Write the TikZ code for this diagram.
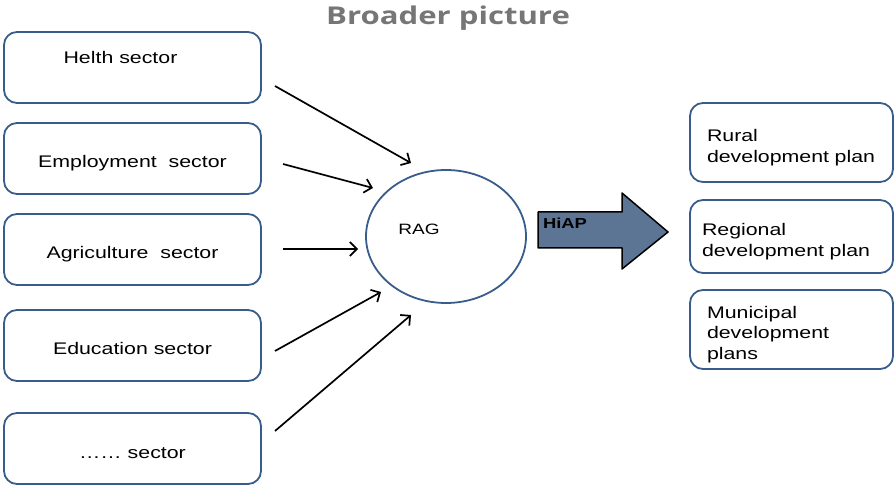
\documentclass[tikz,border=0pt]{standalone}
\usepackage{fontspec}
\setmainfont{Liberation Sans}[FakeStretch=1.27]
\newfontfamily\titlefont{Open Sans}[FakeStretch=1.27]
\usetikzlibrary{arrows.meta,shapes.geometric}
\definecolor{boxblue}{RGB}{56,93,138}
\definecolor{hiapfill}{RGB}{92,117,148}
\definecolor{titlegray}{RGB}{118,118,118}
\tikzset{
  sectorbox/.style={draw=boxblue, line width=1.8pt, rounded corners=13pt,
    minimum width=257pt, minimum height=71pt, align=center,
    text height=21pt, text depth=2pt},
  planbox/.style={draw=boxblue, line width=1.8pt, rounded corners=13pt,
    inner xsep=17pt, text width=169pt, minimum height=79pt, align=left,
    text height=22pt},
  ragellipse/.style={ellipse, draw=boxblue, line width=1.8pt,
    minimum width=160pt, minimum height=133pt},
  feed/.style={->, line width=1.7pt}
}
\begin{document}
\begin{tikzpicture}[x=1pt, y=-1pt, line join=round,
  >={Straight Barb[length=7pt,width=14pt]},
  font=\fontsize{16.8}{20.5}\selectfont]
\useasboundingbox (0,0) rectangle (895,486);

\node[font=\titlefont\bfseries\fontsize{24.5}{28}\selectfont, text=titlegray] (title) at (448,18) {Broader picture};

% sectors
\node[sectorbox, text height=12pt, text depth=19pt] (helth) at (132.5,67.5) {Helth sector\hspace*{24pt}};
\node[sectorbox] (employ) at (132.5,158.5) {Employment~ sector};
\node[sectorbox] (agri) at (132.5,249.5) {Agriculture~ sector};
\node[sectorbox] (edu) at (132.5,345.5) {Education sector};
\node[sectorbox] (other) at (132.5,448.5) {…… sector};

\node[ragellipse, label={[xshift=-27pt, yshift=7.5pt, font=\fontsize{15}{18}\selectfont]center:RAG}] (rag) at (446,236.5) {};

\coordinate (t1) at (275,86);  \coordinate (h1) at (411,163);
\coordinate (t2) at (283,164); \coordinate (h2) at (373,188);
\coordinate (t3) at (283,249); \coordinate (h3) at (358,249);
\coordinate (t4) at (275,351); \coordinate (h4) at (381,292);
\coordinate (t5) at (275,431); \coordinate (h5) at (411,315);
\foreach \i in {1,...,5}
  \draw[feed] (t\i) -- (h\i);

% big arrow
\draw[fill=hiapfill, line width=1.5pt] (538,212) -- (622,212) -- (622,193) -- (668,232)
  -- (622,269) -- (622,248) -- (538,248) -- cycle;
\node[font=\bfseries\fontsize{14.5}{17}\selectfont] (hiap) at (565,223) {HiAP};

% plans
\node[planbox] (rural) at (791.5,142.5) {Rural\\development plan};
\node[planbox, inner xsep=12pt, text width=179pt, minimum height=73pt] (regional) at (791.5,236.5) {Regional\\development plan};
\node[planbox] (municipal) at (791.5,329.5) {Municipal\\development\\plans};
\end{tikzpicture}
\end{document}
